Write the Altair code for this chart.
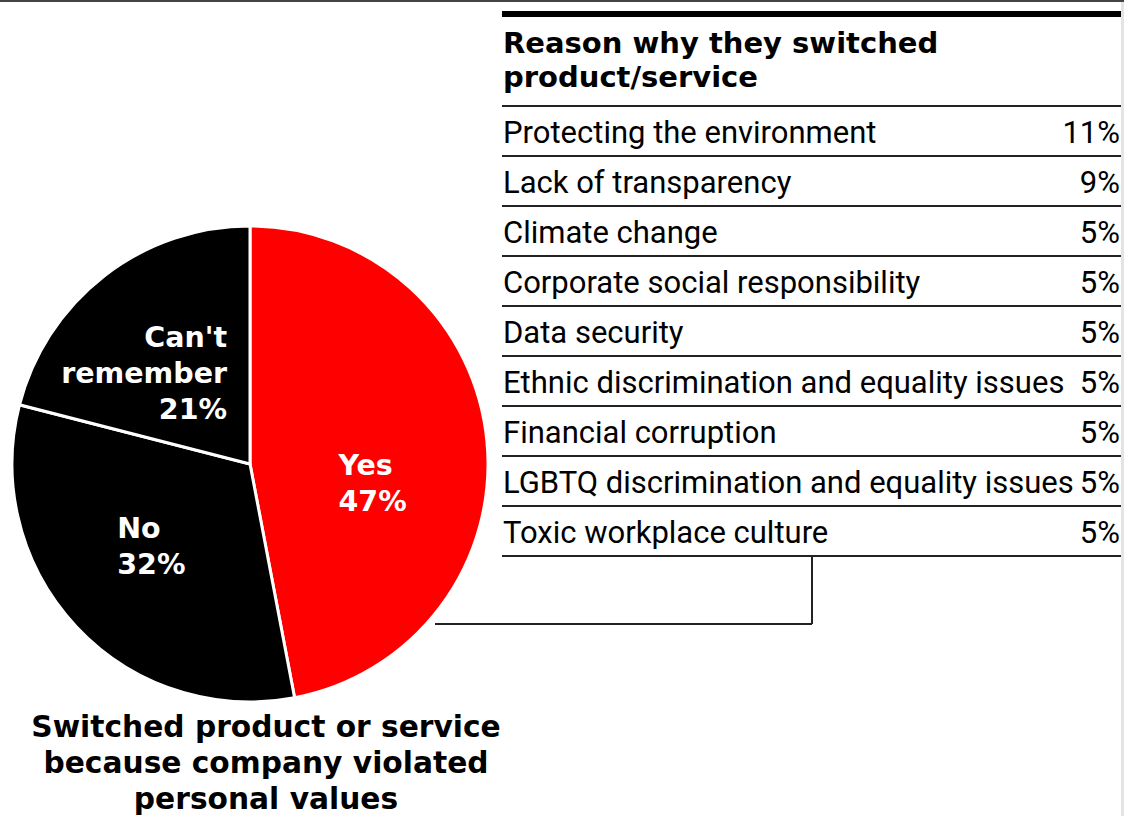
import altair as alt
import pandas as pd
import numpy as np

W, H = 1124, 816

# ---- data ----
pie_labels = ["Yes", "No", "Can't remember"]
pie_values = [47, 32, 21]
pie_colors = ["#ff0000", "#000000", "#000000"]
pie_text = ["Yes\n47%", "No\n32%", "Can't\nremember\n21%"]

reasons = [
    "Protecting the environment",
    "Lack of transparency",
    "Climate change",
    "Corporate social responsibility",
    "Data security",
    "Ethnic discrimination and equality issues",
    "Financial corruption",
    "LGBTQ discrimination and equality issues",
    "Toxic workplace culture",
]
reason_values = [11, 9, 5, 5, 5, 5, 5, 5, 5]

pie_title = "Switched product or service\nbecause company violated\npersonal values"
table_title = "Reason why they switched\nproduct/service"

# ---- layout ----
CX, CY, R = 250, 464, 238
TX0, TX1 = 502, 1121
ROW0, ROWH = 143, 50
label_nudge = {  # (dx, dy, align) relative to slice centroid at half radius
    "Yes": (-30, 22, "left"),
    "No": (-46, -7, "left"),
    "Can't remember": (50, -23, "right"),
}

X = alt.Scale(domain=[0, W], nice=False, zero=False)
Y = alt.Scale(domain=[H, 0], nice=False, zero=False)

def xy(xf="x", yf="y"):
    return dict(x=alt.X(f"{xf}:Q", scale=X, axis=None),
                y=alt.Y(f"{yf}:Q", scale=Y, axis=None))

# pie
pie_df = pd.DataFrame({"label": pie_labels, "value": pie_values,
                       "idx": range(len(pie_labels)), "txt": pie_text})
pie = alt.Chart(pie_df).mark_arc(outerRadius=R, stroke="white", strokeWidth=3).encode(
    theta=alt.Theta("value:Q", stack=True),
    color=alt.Color("label:N", scale=alt.Scale(domain=pie_labels, range=pie_colors), legend=None),
    order=alt.Order("idx:Q"),
    x=alt.value(CX), y=alt.value(CY),
)

# pie label anchors from slice mid-angles
tot = sum(pie_values)
cum = np.cumsum([0] + pie_values)
rows = []
for i, lab in enumerate(pie_labels):
    mid = (cum[i] + pie_values[i] / 2) / tot * 2 * np.pi
    dx, dy, al = label_nudge[lab]
    rows.append({"x": CX + 0.5 * R * np.sin(mid) + dx,
                 "y": CY - 0.5 * R * np.cos(mid) + dy,
                 "txt": pie_text[i], "align": al})
lab_df = pd.DataFrame(rows)
lab_layers = []
for al in ["left", "right"]:
    lab_layers.append(
        alt.Chart(lab_df[lab_df["align"] == al]).mark_text(
            align=al, baseline="alphabetic", font="DejaVu Sans", fontWeight="bold",
            fontSize=28.5, lineHeight=36, lineBreak="\n", color="white",
        ).encode(text="txt:N", **xy())
    )

# pie title
pt = alt.Chart(pd.DataFrame({"x": [266], "y": [737], "t": [pie_title]})).mark_text(
    align="center", baseline="alphabetic", font="DejaVu Sans", fontWeight="bold",
    fontSize=29.7, lineHeight=36, lineBreak="\n", color="black",
).encode(text="t:N", **xy())

# table title
tt = alt.Chart(pd.DataFrame({"x": [503], "y": [53], "t": [table_title]})).mark_text(
    align="left", baseline="alphabetic", font="DejaVu Sans", fontWeight="bold",
    fontSize=29, lineHeight=34, lineBreak="\n", color="black",
).encode(text="t:N", **xy())

# table rows
tab_df = pd.DataFrame({
    "reason": reasons,
    "val": [f"{v}%" for v in reason_values],
    "y": [ROW0 + ROWH * i for i in range(len(reasons))],
    "xl": TX0 + 1, "xr": 1120,
})
t_left = alt.Chart(tab_df).mark_text(
    align="left", baseline="alphabetic", font="Roboto", fontSize=31, color="black",
).encode(text="reason:N", **xy("xl", "y"))
t_right = alt.Chart(tab_df).mark_text(
    align="right", baseline="alphabetic", font="Roboto", fontSize=31, color="black",
).encode(text="val:N", **xy("xr", "y"))

# rules
n = len(reasons)
seg = [
    (1122.5, 1122.5, 0, H, 3, "#e4e4e4"),
    (0, W, 1, 1, 2, "#444444"),
    (TX0, TX1, 14, 14, 6, "#000000"),
    (TX0, TX1, 106, 106, 2, "#222222"),
]
for i in range(n):
    yy = ROW0 + ROWH * i + 13
    seg.append((TX0, TX1, yy, yy, 2, "#222222"))
last = ROW0 + ROWH * (n - 1) + 13
seg.append((812, 812, last, 624, 2, "#222222"))
seg.append((435, 812, 624, 624, 2, "#222222"))
seg_df = pd.DataFrame(seg, columns=["x", "x2", "y", "y2", "w", "c"])
rules = alt.Chart(seg_df).mark_rule().encode(
    x=alt.X("x:Q", scale=X, axis=None), x2="x2:Q",
    y=alt.Y("y:Q", scale=Y, axis=None), y2="y2:Q",
    strokeWidth=alt.StrokeWidth("w:Q", scale=None),
    color=alt.Color("c:N", scale=None),
)

chart = alt.layer(pie, *lab_layers, pt, tt, t_left, t_right, rules).properties(
    width=W, height=H, padding=0, autosize=alt.AutoSizeParams(type="none"),
    background="white",
).configure_view(stroke=None)

chart.save("out.html", embed_options={"renderer": "svg", "actions": False})
